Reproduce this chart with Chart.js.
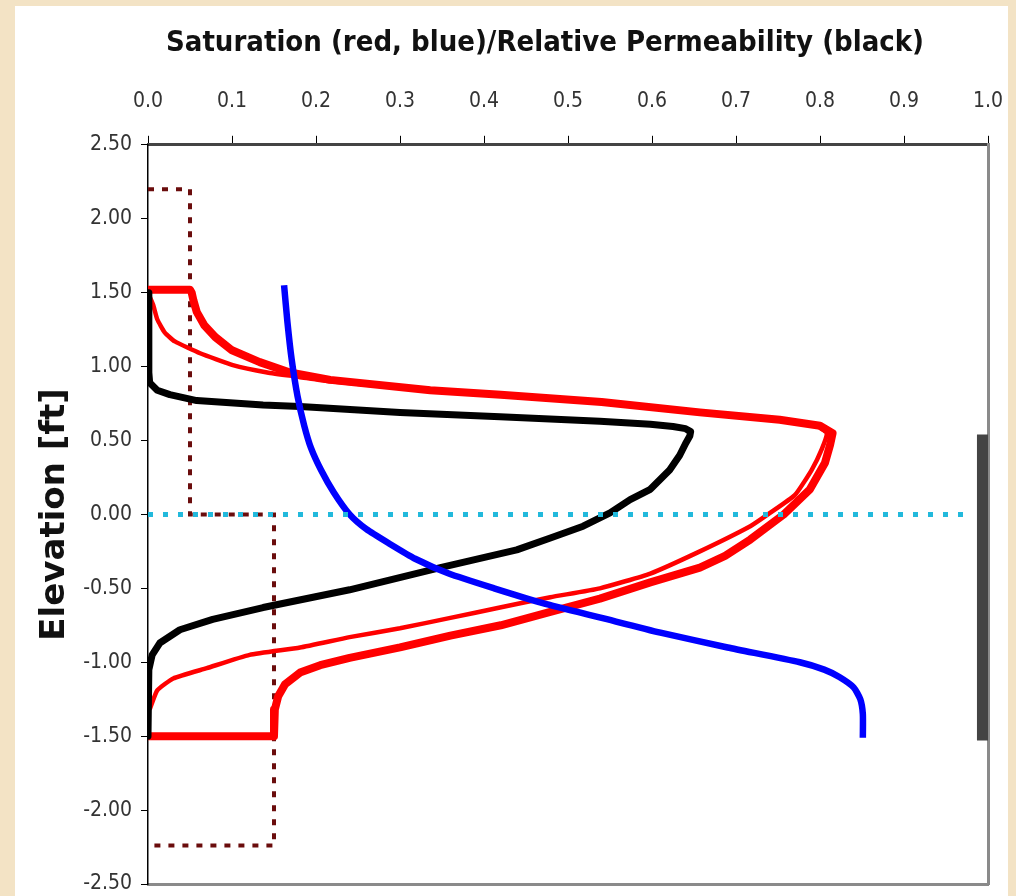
<!DOCTYPE html>
<html>
<head>
<meta charset="utf-8">
<script src="https://cdn.jsdelivr.net/npm/chart.js@4"></script>
<style>
  html, body { margin: 0; padding: 0; background: #f3e3c5; overflow: hidden; }
  #panel { position: absolute; left: 15px; top: 6px; width: 993px; height: 890px; background: #fff; }
  #wrap { position: absolute; left: 0; top: 0; width: 1016px; height: 896px; }
</style>
</head>
<body>
<div id="panel"></div>
<div id="wrap"><canvas id="grafico"></canvas></div>
<script>
// ticks
const xTicks = [0, 0.1, 0.2, 0.3, 0.4, 0.5, 0.6, 0.7, 0.8, 0.9, 1.0];
const yTicks = [2.5, 2.0, 1.5, 1.0, 0.5, 0.0, -0.5, -1.0, -1.5, -2.0, -2.5];

// dashed step (dark red)
const stepX = [0, 0.05, 0.05, 0.15, 0.15, 0];
const stepY = [2.2, 2.2, 0, 0, -2.24, -2.24];

// water table (cyan dotted)
const wtX = [0, 0.976];
const wtY = [0, 0];

// screen bar (gray)
const barX = [0.994, 0.994];
const barY = [0.54, -1.53];

// saturation, thick red
const redThickX = [0, 0.05, 0.052, 0.054, 0.058, 0.067, 0.080, 0.10, 0.133, 0.169, 0.217, 0.336, 0.42, 0.54, 0.657, 0.752, 0.80, 0.815,
  0.812, 0.806, 0.788, 0.757, 0.717, 0.687, 0.657, 0.598, 0.538, 0.479, 0.42, 0.36, 0.30, 0.24, 0.205, 0.181, 0.163, 0.155, 0.151, 0.15, 0];
const redThickY = [1.52, 1.52, 1.50, 1.45, 1.37, 1.28, 1.20, 1.11, 1.03, 0.96, 0.91, 0.84, 0.81, 0.76, 0.69, 0.64, 0.60, 0.55,
  0.47, 0.35, 0.17, 0.0, -0.17, -0.28, -0.36, -0.46, -0.57, -0.66, -0.75, -0.82, -0.90, -0.97, -1.02, -1.07, -1.15, -1.23, -1.32, -1.50, -1.50];

// saturation, thin red
const redThinX = [0, 0.006, 0.011, 0.02, 0.032, 0.062, 0.101, 0.142, 0.18, 0.217, 0.336, 0.42, 0.54, 0.657, 0.752, 0.795, 0.808,
  0.802, 0.790, 0.770, 0.738, 0.717, 0.657, 0.598, 0.538, 0.479, 0.419, 0.36, 0.30, 0.24, 0.181, 0.121, 0.07, 0.03, 0.011, 0.002];
const redThinY = [1.50, 1.42, 1.32, 1.23, 1.17, 1.09, 1.01, 0.96, 0.93, 0.90, 0.84, 0.81, 0.76, 0.69, 0.64, 0.60, 0.55,
  0.44, 0.30, 0.13, 0.0, -0.08, -0.25, -0.40, -0.50, -0.56, -0.63, -0.70, -0.77, -0.83, -0.90, -0.95, -1.04, -1.11, -1.19, -1.32];

// relative permeability (black)
const kX = [0, 0.001, 0.002, 0.011, 0.026, 0.058, 0.137, 0.181, 0.30, 0.419, 0.538, 0.598, 0.625, 0.640, 0.646,
  0.645, 0.640, 0.633, 0.621, 0.598, 0.574, 0.55, 0.518, 0.479, 0.439, 0.348, 0.24, 0.137, 0.077, 0.038, 0.014, 0.005, 0.001, 0];
const kY = [1.50, 0.96, 0.89, 0.84, 0.81, 0.77, 0.74, 0.73, 0.69, 0.66, 0.63, 0.61, 0.595, 0.58, 0.56,
  0.53, 0.48, 0.40, 0.30, 0.17, 0.10, 0.01, -0.08, -0.16, -0.24, -0.36, -0.51, -0.63, -0.71, -0.78, -0.87, -0.95, -1.05, -1.50];

// saturation, blue
const blueX = [0.162, 0.166, 0.171, 0.178, 0.186, 0.194, 0.206, 0.221, 0.240, 0.260, 0.288, 0.318, 0.358, 0.412, 0.470, 0.540, 0.610, 0.690,
  0.776, 0.805, 0.823, 0.840, 0.848, 0.851, 0.851];
const blueY = [1.55, 1.30, 1.05, 0.80, 0.60, 0.45, 0.30, 0.15, 0.0, -0.10, -0.20, -0.30, -0.40, -0.50, -0.60, -0.70, -0.80, -0.90,
  -1.00, -1.05, -1.10, -1.17, -1.25, -1.35, -1.51];

function puntos(xs, ys) {
    return xs.map((x, i) => ({ x: x, y: ys[i] }));
}

function serie(xs, ys, color, width, order, tension, dash) {
    return {
        data: puntos(xs, ys),
        showLine: true,
        borderColor: color,
        backgroundColor: color,
        borderWidth: width,
        borderDash: dash || [],
        borderJoinStyle: tension === null ? 'miter' : 'round',
        borderCapStyle: 'butt',
        pointRadius: 0,
        pointHoverRadius: 0,
        tension: tension || 0,
        fill: false,
        order: order
    };
}

// axes take no extra room for label overflow
function sinPadding(s) {
    s.paddingLeft = 0;
    s.paddingRight = 0;
    s.paddingTop = 0;
    s.paddingBottom = 0;
}

// shift the title a bit to the right, as in the original figure
const moverTitulo = {
    id: 'moverTitulo',
    afterLayout(chart) {
        if (chart.titleBlock) {
            chart.titleBlock.left += 74;
        }
    }
};

const tickFont = { family: "'DejaVu Sans Condensed', sans-serif", size: 21 };

const ctx = document.getElementById('grafico').getContext('2d');
new Chart(ctx, {
    type: 'scatter',
    data: {
        datasets: [
            serie(wtX, wtY, '#22b9dc', 5, 0, null, [5, 10]),
            serie(blueX, blueY, '#0000ff', 6.5, 1, 0.2),
            serie(kX, kY, '#000000', 7, 2, 0),
            serie(redThickX, redThickY, '#ff0000', 8, 3, 0),
            serie(redThinX, redThinY, '#ff0000', 4.5, 4, 0.15),
            serie(stepX, stepY, '#6a0c0c', 4, 5, null, [6, 8]),
            serie(barX, barY, '#444444', 12, 6, null)
        ]
    },
    plugins: [moverTitulo],
    options: {
        responsive: true,
        maintainAspectRatio: false,
        animation: false,
        layout: { padding: 0 },
        plugins: {
            legend: { display: false },
            tooltip: { enabled: false },
            title: {
                display: true,
                text: 'Saturation (red, blue)/Relative Permeability (black)',
                color: '#111',
                font: { family: "'DejaVu Sans Condensed', sans-serif", size: 29, weight: 'bold' },
                padding: { top: 26, bottom: 9 }
            }
        },
        scales: {
            x: {
                type: 'linear',
                position: 'top',
                min: 0,
                max: 1,
                afterBuildTicks: s => { s.ticks = xTicks.map(v => ({ value: v })); },
                afterFit: s => { s.height = 75; sinPadding(s); },
                ticks: {
                    callback: v => v.toFixed(1),
                    color: '#333',
                    font: tickFont,
                    padding: 22,
                    maxRotation: 0
                },
                grid: { drawOnChartArea: false, tickLength: 9, color: '#000', lineWidth: 1 },
                border: { color: '#444', width: 3 }
            },
            x2: {
                type: 'linear',
                position: 'bottom',
                min: 0,
                max: 1,
                afterFit: s => { s.height = 12; sinPadding(s); },
                ticks: { display: false },
                grid: { display: false },
                border: { color: '#8a8a8a', width: 3 }
            },
            y: {
                type: 'linear',
                position: 'left',
                min: -2.5,
                max: 2.5,
                afterBuildTicks: s => { s.ticks = yTicks.map(v => ({ value: v })); },
                afterFit: s => { s.width = 148; sinPadding(s); },
                ticks: {
                    callback: v => v.toFixed(2),
                    color: '#333',
                    font: tickFont,
                    padding: 9
                },
                grid: { drawOnChartArea: false, tickLength: 7, color: '#000', lineWidth: 1 },
                border: { color: '#000', width: 1.5 },
                title: {
                    display: true,
                    text: 'Elevation [ft]',
                    color: '#111',
                    font: { family: "'DejaVu Sans', sans-serif", size: 34, weight: 'bold' },
                    padding: { top: 35, bottom: 0 }
                }
            },
            y2: {
                type: 'linear',
                position: 'right',
                min: -2.5,
                max: 2.5,
                afterFit: s => { s.width = 28; sinPadding(s); },
                ticks: { display: false },
                grid: { display: false },
                border: { color: '#8a8a8a', width: 3 }
            }
        }
    }
});
</script>
</body>
</html>
